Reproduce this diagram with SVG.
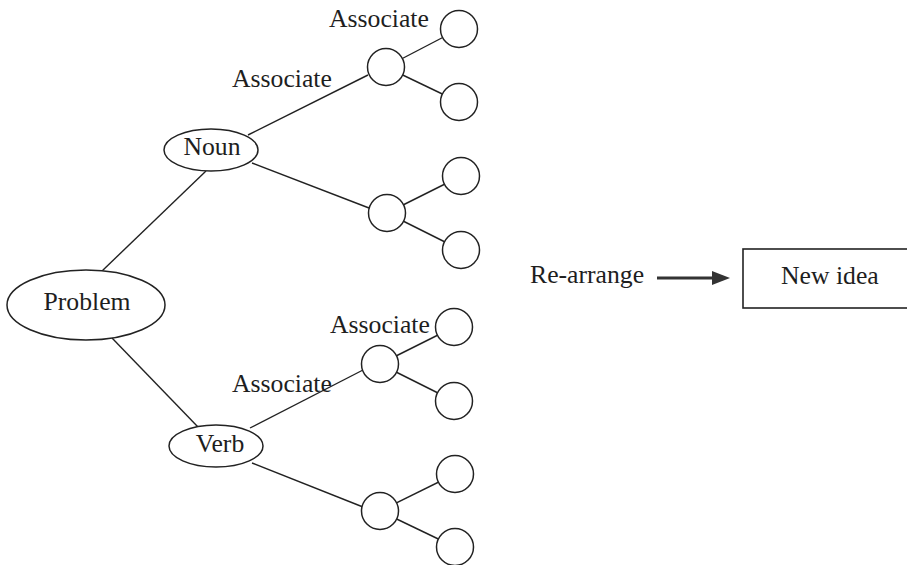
<svg xmlns="http://www.w3.org/2000/svg" width="907" height="565" viewBox="0 0 907 565">
<style>
  .t { font-family: "Liberation Serif", "Times New Roman", serif; font-size: 25.7px; fill: #1e1e1e; }
  .c { text-anchor: middle; }
  .e { stroke: #222; stroke-width: 1.4; fill: none; }
  .n { fill: #fff; stroke: #222; stroke-width: 1.5; }
</style>
<rect width="907" height="565" fill="#fff"/>
<g id="connectors">
  <line class="e" x1="102" y1="271" x2="206" y2="171"/>
  <line class="e" x1="112" y1="338" x2="198" y2="427"/>
  <line class="e" x1="248" y1="135" x2="368" y2="75"/>
  <line class="e" x1="252" y1="163" x2="369" y2="208"/>
  <line class="e" x1="250" y1="428" x2="363" y2="370"/>
  <line class="e" x1="252" y1="463" x2="363" y2="507"/>
  <line class="e" x1="386" y1="67" x2="459" y2="29"/>
  <line class="e" x1="386" y1="67" x2="459" y2="102"/>
  <line class="e" x1="387" y1="213" x2="461" y2="176"/>
  <line class="e" x1="387" y1="213" x2="461" y2="250"/>
  <line class="e" x1="380" y1="364" x2="454" y2="327"/>
  <line class="e" x1="380" y1="364" x2="454" y2="401"/>
  <line class="e" x1="380" y1="511" x2="455" y2="474"/>
  <line class="e" x1="380" y1="511" x2="455" y2="547"/>
  <line x1="657" y1="278" x2="714" y2="278" stroke="#333" stroke-width="3"/>
  <polygon points="712,271 730,278 712,285" fill="#333"/>
</g>
<g id="problem"><ellipse class="n" cx="86" cy="305" rx="79" ry="35"/><text class="t c" x="87" y="310">Problem</text></g>
<g id="noun"><ellipse class="n" cx="211" cy="150" rx="47" ry="21"/><text class="t c" x="212" y="155">Noun</text></g>
<g id="verb"><ellipse class="n" cx="216" cy="446" rx="47" ry="21"/><text class="t c" x="220" y="452">Verb</text></g>
<g id="nA"><circle class="n" cx="386" cy="67" r="18.5"/></g>
<g id="nA1"><circle class="n" cx="459" cy="29" r="18.5"/></g>
<g id="nA2"><circle class="n" cx="459" cy="102" r="18.5"/></g>
<g id="nB"><circle class="n" cx="387" cy="213" r="18.5"/></g>
<g id="nB1"><circle class="n" cx="461" cy="176" r="18.5"/></g>
<g id="nB2"><circle class="n" cx="461" cy="250" r="18.5"/></g>
<g id="nC"><circle class="n" cx="380" cy="364" r="18.5"/></g>
<g id="nC1"><circle class="n" cx="454" cy="327" r="18.5"/></g>
<g id="nC2"><circle class="n" cx="454" cy="401" r="18.5"/></g>
<g id="nD"><circle class="n" cx="380" cy="511" r="18.5"/></g>
<g id="nD1"><circle class="n" cx="455" cy="474" r="18.5"/></g>
<g id="nD2"><circle class="n" cx="455" cy="547" r="18.5"/></g>
<g id="labels">
  <text class="t" x="329" y="27">Associate</text>
  <text class="t" x="232" y="87">Associate</text>
  <text class="t" x="330" y="333">Associate</text>
  <text class="t" x="232" y="392">Associate</text>
  <text class="t" x="530" y="283">Re-arrange</text>
</g>
<g id="newidea"><rect x="743" y="249" width="200" height="59" fill="#fff" stroke="#222" stroke-width="1.6"/><text class="t" x="781" y="284">New idea</text></g>
</svg>
